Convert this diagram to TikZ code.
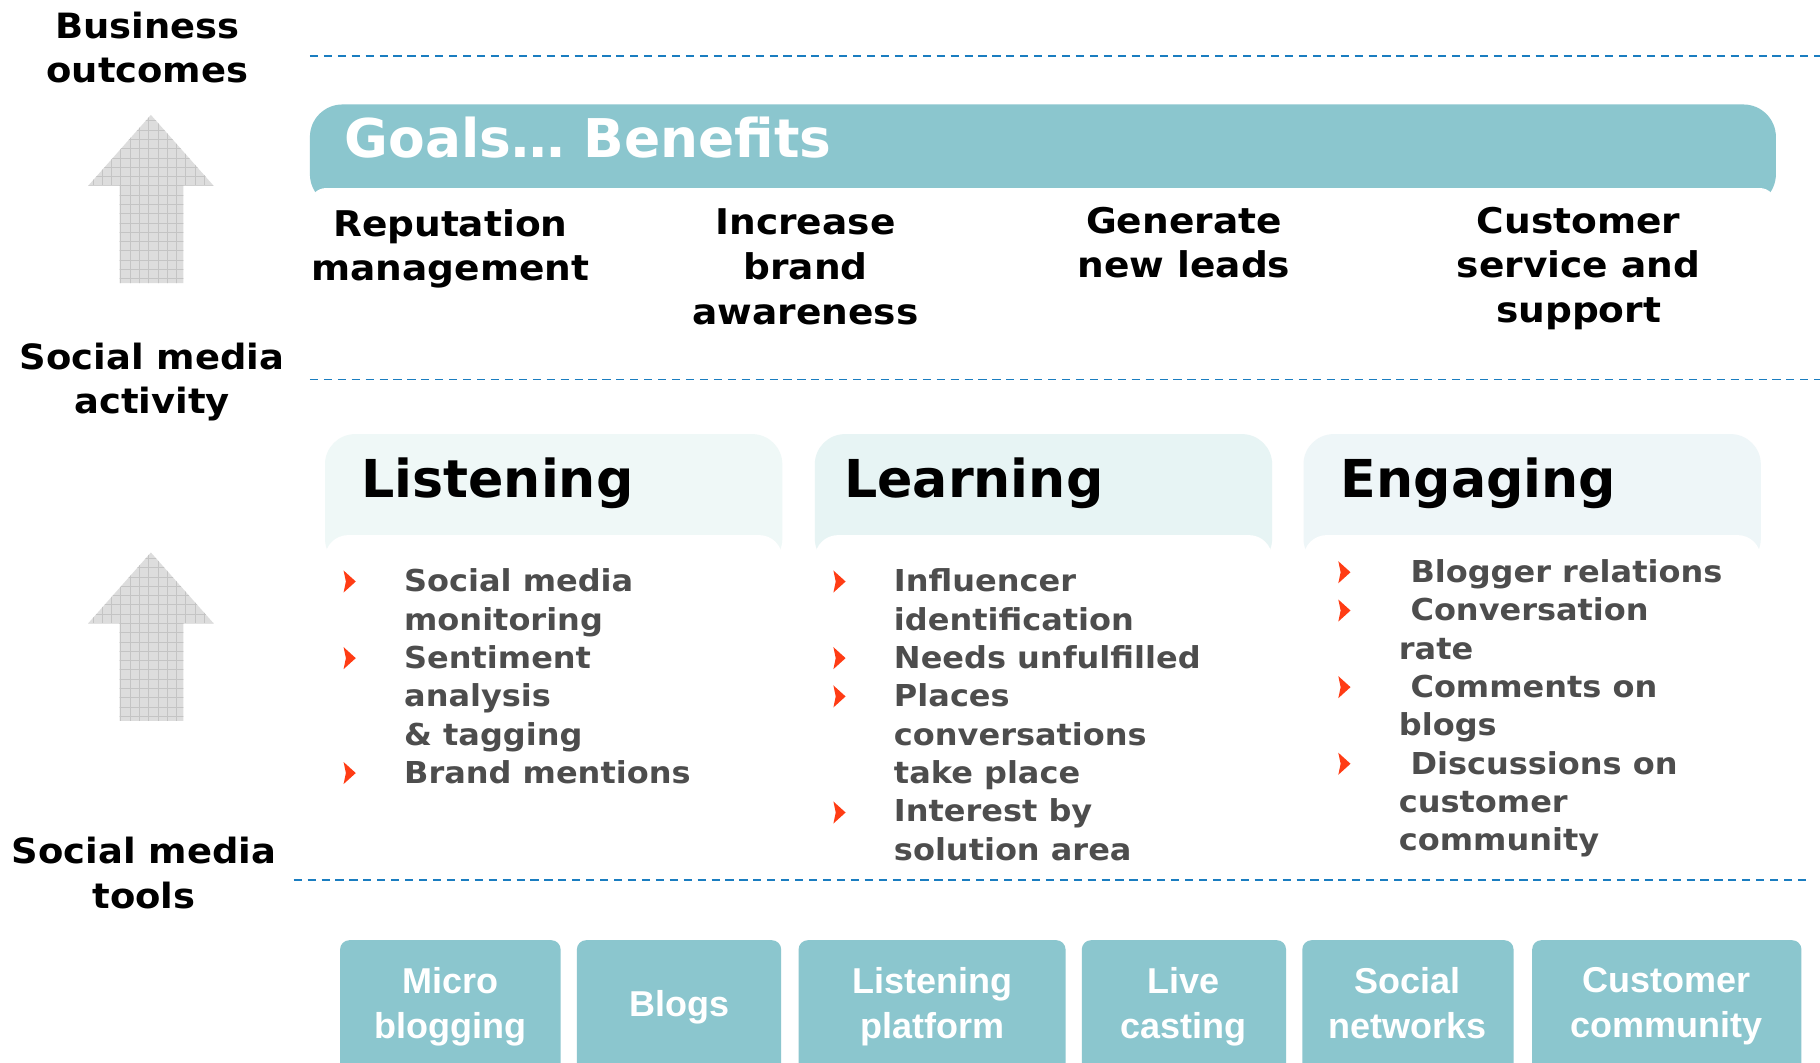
\documentclass[tikz,border=0pt]{standalone}
\usepackage{fontspec}
\setmainfont{DejaVu Sans}[FakeStretch=1.06]
\newfontfamily\plainfont{DejaVu Sans}
\newfontfamily\toolfont{Liberation Sans}
\definecolor{tealA}{RGB}{139,198,206}
\definecolor{hdrA}{RGB}{239,248,247}
\definecolor{hdrB}{RGB}{231,244,244}
\definecolor{hdrC}{RGB}{238,246,248}
\definecolor{dashblue}{RGB}{26,125,192}
\definecolor{bulred}{RGB}{255,60,20}
\definecolor{itemgray}{RGB}{77,77,77}
\definecolor{arrowgray}{RGB}{221,221,221}
\definecolor{gridgray}{RGB}{196,196,196}
\newcommand\setfs[2]{\fontsize{#1}{#2}\selectfont}
\newcommand\bulletat[2]{\fill[bul, shift={(#1,#2)}] (0,-9.5) -- (10.5,0) -- (0,9.5) -- (2,0) -- cycle;}
\tikzset{
  sepline/.style={draw=dashblue, line width=1.6pt, dash pattern=on 7pt off 5pt},
  sidelabel/.style={anchor=north, inner sep=0pt, align=center, font=\bfseries\setfs{30}{38.5}},
  goalitem/.style={anchor=north, inner sep=0pt, align=center, font=\bfseries\setfs{30.5}{38.5}},
  acthead/.style={anchor=base west, inner sep=0pt, font=\plainfont\bfseries\setfs{45}{50}},
  actitems/.style={anchor=north west, inner sep=0pt, align=left, text=itemgray, font=\bfseries\setfs{26}{33}},
  bul/.style={fill=bulred},
  toolbox/.style={fill=tealA, rounded corners=8pt},
  tooltext/.style={anchor=north, inner sep=0pt, align=center, text=white, font=\toolfont\bfseries\setfs{31}{39}},
}
\begin{document}
\begin{tikzpicture}[x=1pt,y=-1pt]
\clip (0,0) rectangle (1568,915);
\fill[white] (0,0) rectangle (1568,915);

% dashed separators
\coordinate (d1a) at (267,48);  \coordinate (d1b) at (1568,48);
\coordinate (d2a) at (267,327); \coordinate (d2b) at (1568,327);
\coordinate (d3a) at (253,758); \coordinate (d3b) at (1557,758);
\draw[sepline] (d1a) -- (d1b);
\draw[sepline] (d2a) -- (d2b);
\draw[sepline] (d3a) -- (d3b);

% side labels
\node[sidelabel] (lblbiz) at (127,10) {Business\\outcomes};
\node[sidelabel] (lblact) at (131,295) {Social media\\activity};
\node[sidelabel] (lbltools) at (124,721) {Social media\\tools};

% grey up arrows
\foreach \dy in {0,377}{
\begin{scope}[shift={(0,\dy)}]
  \clip (130,99) -- (184,160) -- (158,160) -- (158,244) -- (103,244) -- (103,160) -- (76,160) -- cycle;
  \fill[arrowgray] (70,95) rectangle (190,250);
  \draw[gridgray, line width=0.5pt, step=8pt] (70,95) grid (190,250);
\end{scope}}

% goals tab
\fill[tealA, rounded corners=28pt] (267,90) rectangle (1530,178);
\fill[white, rounded corners=14pt] (267,162) rectangle (1530,300);
\node[anchor=base west, inner sep=0pt, text=white, font=\plainfont\bfseries\setfs{46}{52}] (goals) at (297,136) {Goals\dots\ Benefits};

\node[goalitem] (g1) at (388,180) {Reputation\\management};
\node[goalitem] (g2) at (694,180) {Increase\\brand\\awareness};
\node[goalitem] (g3) at (1020,178) {Generate\\new leads};
\node[goalitem] (g4) at (1360,178) {Customer\\service and\\support};

% activity panels
\fill[hdrA, rounded corners=26pt] (280,374) rectangle (674,490);
\fill[white, rounded corners=20pt] (280,461) rectangle (674,690);
\fill[hdrB, rounded corners=26pt] (702,374) rectangle (1096,490);
\fill[white, rounded corners=20pt] (702,461) rectangle (1096,690);
\fill[hdrC, rounded corners=26pt] (1123,374) rectangle (1517,490);
\fill[white, rounded corners=20pt] (1123,461) rectangle (1517,690);

\node[acthead] (hlisten) at (311,429) {Listening};
\node[acthead] (hlearn) at (727,429) {Learning};
\node[acthead] (hengage) at (1155,429) {Engaging};

\node[actitems] (ilisten) at (348,490) {Social media\\monitoring\\Sentiment\\analysis\\\& tagging\\Brand mentions};
\node[actitems] (ilearn) at (770,490) {Influencer\\identification\\Needs unfulfilled\\Places\\conversations\\take place\\Interest by\\solution area};
\node[actitems] (iengage) at (1205,482) {\hspace*{10pt}Blogger relations\\\hspace*{10pt}Conversation\\rate\\\hspace*{10pt}Comments on\\blogs\\\hspace*{10pt}Discussions on\\customer\\community};

\bulletat{296}{501}\bulletat{296}{567}\bulletat{296}{666}
\bulletat{718}{501}\bulletat{718}{567}\bulletat{718}{600}\bulletat{718}{700}
\bulletat{1153}{493}\bulletat{1153}{526}\bulletat{1153}{592}\bulletat{1153}{658}

% tool boxes
\fill[toolbox] (293,810) rectangle (483,935);
\fill[toolbox] (497,810) rectangle (673,935);
\fill[toolbox] (688,810) rectangle (918,935);
\fill[toolbox] (932,810) rectangle (1108,935);
\fill[toolbox] (1122,810) rectangle (1304,935);
\fill[toolbox] (1320,810) rectangle (1552,935);
\node[tooltext] (t1) at (388,833) {Micro\\blogging};
\node[tooltext] (t2) at (585,853) {Blogs};
\node[tooltext] (t3) at (803,833) {Listening\\platform};
\node[tooltext] (t4) at (1020,833) {Live\\casting};
\node[tooltext] (t5) at (1213,833) {Social\\networks};
\node[tooltext] (t6) at (1436,833) {Customer\\community};
\end{tikzpicture}
\end{document}
